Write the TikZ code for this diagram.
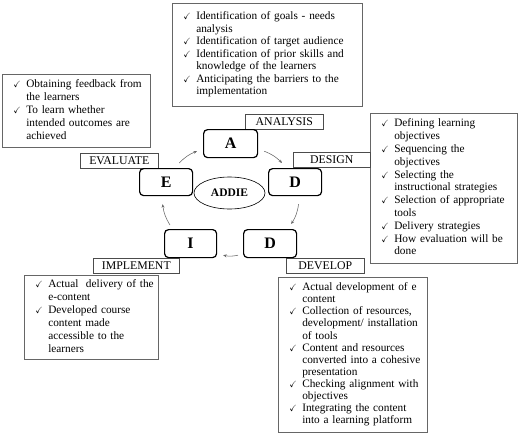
\documentclass[tikz,border=0pt]{standalone}
\usepackage{amssymb}
\usepackage{fontspec}
\setmainfont{Liberation Serif}
\usetikzlibrary{arrows.meta,positioning,shapes.geometric}
\newcommand{\tk}{\makebox[13pt][l]{\small$\checkmark$}}

\begin{document}
\begin{tikzpicture}[x=1pt,y=-1pt,
  listbox/.style={draw=black!60,line width=0.6pt,anchor=north west,align=left,inner xsep=11pt,inner ysep=1pt,font=\fontsize{11.3}{#1}\selectfont},
  listbox/.default=12.6,
  tagbox/.style={draw=black!70,line width=0.6pt,anchor=north west,inner sep=0pt,font=\fontsize{11.8}{12}\selectfont},
  stagebox/.style={draw,rounded corners=4pt,line width=1.2pt,anchor=north west,inner sep=0pt,font=\bfseries\fontsize{16}{16}\selectfont},
  cyc/.style={draw=black!60,line width=0.55pt,-{Stealth[length=3.5pt,width=3pt]},bend left=12}]
\useasboundingbox (0,0) rectangle (520,442);
\node[listbox=12.5,minimum height=103pt,text width=168pt] (analysis-list) at (172,3) {\begin{tabular}{@{}l@{}l@{}}
\tk & Identification of goals - needs\\
 & analysis\\
\tk & Identification of target audience\\
\tk & Identification of prior skills and\\
 & knowledge of the learners\\
\tk & Anticipating the barriers to the\\
 & implementation
\end{tabular}};
\node[listbox=13,minimum height=73pt,text width=126pt] (evaluate-list) at (2,74) {\begin{tabular}{@{}l@{}l@{}}
\tk & Obtaining feedback from\\
 & the learners\\
\tk & To learn whether\\
 & intended outcomes are\\
 & achieved
\end{tabular}};
\node[listbox=12.8,minimum height=150pt,text width=125pt] (design-list) at (370,113) {\begin{tabular}{@{}l@{}l@{}}
\tk & Defining learning\\
 & objectives\\
\tk & Sequencing the\\
 & objectives\\
\tk & Selecting the\\
 & instructional strategies\\
\tk & Selection of appropriate\\
 & tools\\
\tk & Delivery strategies\\
\tk & How evaluation will be\\
 & done
\end{tabular}};
\node[listbox=13,minimum height=84pt,text width=112pt] (implement-list) at (24,275) {\begin{tabular}{@{}l@{}l@{}}
\tk & Actual\ \ delivery of the\\
 & e-content\\
\tk & Developed course\\
 & content made\\
 & accessible to the\\
 & learners
\end{tabular}};
\node[listbox=12.1,minimum height=155pt,text width=127pt] (develop-list) at (278,277) {\begin{tabular}{@{}l@{}l@{}}
\tk & Actual development of e\\
 & content\\
\tk & Collection of resources,\\
 & development/ installation\\
 & of tools\\
\tk & Content and resources\\
 & converted into a cohesive\\
 & presentation\\
\tk & Checking alignment with\\
 & objectives\\
\tk & Integrating the content\\
 & into a learning platform
\end{tabular}};
\foreach \nm/\x/\y/\w/\txt in {analysis/245/114/78/ANALYSIS,design/293/152/77/DESIGN,evaluate/80/153/78/EVALUATE,implement/93/258/86/IMPLEMENT,develop/286/258/78/DEVELOP}{\node[tagbox,minimum width=\w pt,minimum height=15pt] (\nm-tag) at (\x,\y) {\txt};}
\foreach \nm/\x/\y/\w/\h/\txt in {analysis/203/129/54/28/A,design/268/168/53/27/D,evaluate/139/168/53/27/E,implement/164/229/52/28/I,develop/243/229/53/28/D}{\node[stagebox,minimum width=\w pt,minimum height=\h pt] (\nm) at (\x,\y) {\txt};}
\node[ellipse,draw,line width=0.6pt,minimum width=71pt,minimum height=32pt,inner sep=0pt,font=\bfseries\fontsize{11.5}{12}\selectfont] (addie) at (229.5,193) {ADDIE};
\draw[cyc] ([shift={(6,-7)}]analysis.south east) to ([shift={(14,-5)}]design.north west);
\draw[cyc] ([shift={(3.5,8)}]design.south) to ([shift={(-6,-5)}]develop.north east);
\draw[cyc] ([shift={(-5,-3)}]develop.south west) to ([shift={(6,-3)}]implement.south east);
\draw[cyc] ([shift={(6,-4)}]implement.north west) to ([shift={(-3.5,8)}]evaluate.south);
\draw[cyc] ([shift={(-14,-5)}]evaluate.north east) to ([shift={(-6,-7)}]analysis.south west);
\end{tikzpicture}
\end{document}
